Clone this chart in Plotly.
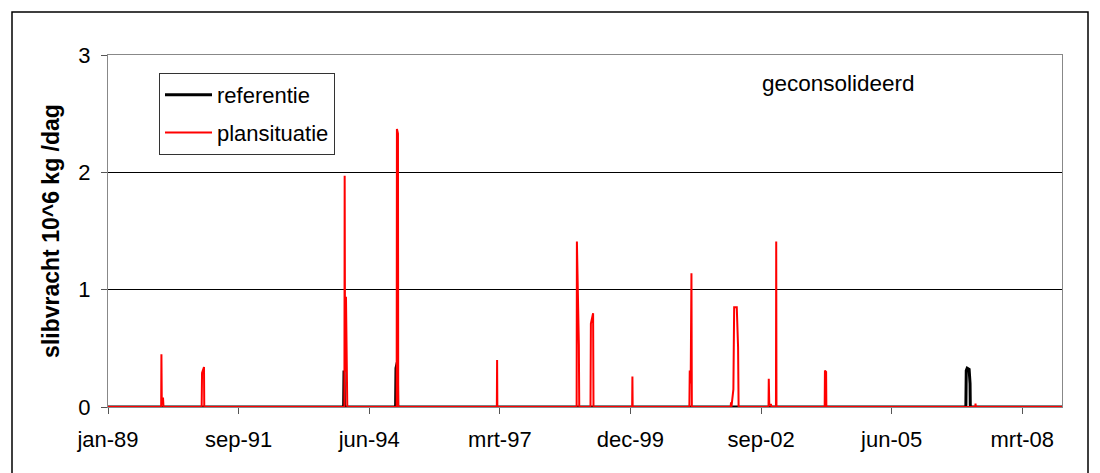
import plotly.graph_objects as go

# referentie (black)
ref_dates = ["1989-01-01", "1993-12-10", "1993-12-13", "1993-12-16",
             "1995-01-12", "1995-01-15", "1995-01-25", "1995-01-28",
             "2006-12-26", "2006-12-29", "2007-01-05", "2007-01-20", "2007-01-27", "2007-01-29",
             "2008-12-31"]
ref_values = [0, 0, 0.31, 0,
              0, 0.33, 0.38, 0,
              0, 0.31, 0.33, 0.32, 0.20, 0,
              0]

# plansituatie (red)
plan_dates = ["1989-01-01",
              "1990-02-12", "1990-02-14", "1990-02-17", "1990-02-26", "1990-03-02",
              "1990-12-19", "1990-12-22", "1991-01-06", "1991-01-08",
              "1993-12-16", "1993-12-18", "1993-12-21", "1993-12-28", "1994-01-05", "1994-01-07",
              "1995-01-20", "1995-01-22", "1995-01-30", "1995-02-01",
              "1997-02-25", "1997-02-27", "1997-03-01",
              "1998-10-29", "1998-10-31", "1998-11-15", "1998-11-18",
              "1999-02-12", "1999-02-15", "1999-03-04", "1999-03-07",
              "1999-12-28", "1999-12-30", "2000-01-01",
              "2001-03-10", "2001-03-13", "2001-03-20", "2001-03-26", "2001-03-29",
              "2002-01-20", "2002-01-23", "2002-01-26", "2002-02-10", "2002-02-13", "2002-02-16",
              "2002-03-08", "2002-03-18", "2002-03-22",
              "2002-11-06", "2002-11-08", "2002-11-12", "2002-11-25", "2002-11-28",
              "2003-01-02", "2003-01-04", "2003-01-06",
              "2004-01-10", "2004-01-12", "2004-01-21", "2004-01-23",
              "2007-03-08", "2007-03-10", "2007-03-12",
              "2008-12-31"]
plan_values = [0,
               0, 0.45, 0.02, 0.08, 0,
               0, 0.29, 0.34, 0,
               0, 1.97, 0.30, 0.94, 0.20, 0,
               0, 2.37, 2.33, 0,
               0, 0.40, 0,
               0, 1.41, 0.53, 0,
               0, 0.71, 0.80, 0,
               0, 0.26, 0,
               0, 0.31, 0.20, 1.14, 0,
               0, 0.04, 0, 0.15, 0.85, 0.85,
               0.85, 0.51, 0,
               0, 0.24, 0.02, 0.02, 0,
               0, 1.41, 0,
               0, 0.31, 0.30, 0,
               0, 0.03, 0,
               0]

tick_vals = ["1989-01-01", "1991-09-28", "1994-06-24", "1997-03-20",
             "1999-12-15", "2002-09-10", "2005-06-06", "2008-03-02"]
tick_text = ["jan-89", "sep-91", "jun-94", "mrt-97", "dec-99", "sep-02", "jun-05", "mrt-08"]

FONT = "Liberation Sans, Arial, sans-serif"

fig = go.Figure()
fig.add_trace(go.Scatter(x=ref_dates, y=ref_values, mode="lines", name="referentie",
                         line=dict(color="#000000", width=3), legendgroup="a"))
fig.add_trace(go.Scatter(x=plan_dates, y=plan_values, mode="lines", name="plansituatie",
                         line=dict(color="#FF0000", width=2), legendgroup="b"))

L, R, T, B = 108, 38, 55, 66
W, H = 1100, 473
pw, ph = W - L - R, H - T - B

def px(x):
    return (x - L) / pw

def py(y):
    return (H - B - y) / ph

fig.update_layout(
    width=W, height=H,
    margin=dict(l=L, r=R, t=T, b=B),
    paper_bgcolor="white", plot_bgcolor="white",
    font=dict(family=FONT, size=22, color="black"),
    showlegend=True,
    legend=dict(x=px(159), y=py(73), xanchor="left", yanchor="top",
                bordercolor="#333333", borderwidth=1, bgcolor="white",
                font=dict(size=22), tracegroupgap=6, itemwidth=47),
    xaxis=dict(type="date", range=["1989-01-01", "2008-12-31"],
               tickmode="array", tickvals=tick_vals, ticktext=tick_text,
               ticks="outside", ticklen=6, tickcolor="#555555",
               showgrid=False, showline=True, linecolor="#888888", mirror=True,
               tickfont=dict(size=22), zeroline=False, ticklabelstandoff=7),
    yaxis=dict(range=[0, 3], tickvals=[0, 1, 2, 3], ticks="outside", ticklen=6,
               tickcolor="#555555", showgrid=True, gridcolor="#000000", gridwidth=1,
               showline=True, linecolor="#888888", mirror=True, zeroline=False,
               tickfont=dict(size=22), ticklabelstandoff=6,
               title=dict(text="<b>slibvracht 10^6 kg /dag</b>", font=dict(size=23), standoff=12)),
    annotations=[dict(text="geconsolideerd", xref="paper", yref="paper",
                      x=px(838), y=py(83), xanchor="center", yanchor="middle",
                      showarrow=False, font=dict(size=22.5))],
    shapes=[dict(type="rect", xref="paper", yref="paper",
                 x0=px(12), x1=px(1088), y0=py(480), y1=py(12),
                 line=dict(color="#000000", width=1.5), fillcolor="rgba(0,0,0,0)", layer="below")],
)

fig.write_html("out.html")
